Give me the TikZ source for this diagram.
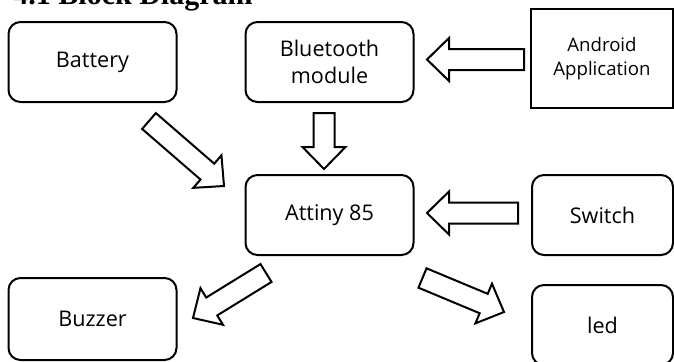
\documentclass[tikz,border=0pt]{standalone}
\usepackage{fontspec}
\setmainfont{Open Sans}
\newfontfamily\titlefont{Liberation Serif}
\usetikzlibrary{positioning,calc}

% sizes of the hollow block arrows
\newcommand{\shaftw}{5.25pt}
\newcommand{\headw}{10.75pt}
\newcommand{\headl}{11pt}

% hollow block arrow from tail #1 to tip #2
\newcommand{\blockarrow}[2]{%
  \draw[hollow] ($(#1)!\shaftw!90:(#2)$)
    -- ($(#2)!\headl!(#1)!\shaftw!90:(#2)$)
    -- ($(#2)!\headl!(#1)!\headw!90:(#2)$)
    -- (#2)
    -- ($(#2)!\headl!(#1)!\headw!-90:(#2)$)
    -- ($(#2)!\headl!(#1)!\shaftw!-90:(#2)$)
    -- ($(#1)!\shaftw!-90:(#2)$) -- cycle;
}

\begin{document}
\begin{tikzpicture}[
        x=0.5pt, y=-0.5pt,
        block/.style={draw, line width=1pt, rectangle, rounded corners=6pt, minimum width=84pt, minimum height=40pt, align=center, font=\fontsize{10.8}{13.5}\selectfont},
        plainbox/.style={draw, line width=1pt, rectangle, minimum width=71pt, minimum height=49.5pt, align=center, font=\fontsize{9.3}{12}\selectfont},
        hollow/.style={draw, line width=1pt, fill=white, line join=miter}
    ]
        \useasboundingbox (0,0) rectangle (674,361);

        % Title (cut at the top)
        \node[anchor=base west, inner sep=0pt, font=\titlefont\bfseries\fontsize{15}{18}\selectfont] (title) at (13,4.5) {4.1 Block Diagram};

        % Central Node
        \node[block] (attiny) at (329.5,215) {Attiny 85};

        % Peripheral Nodes
        \node[block] (battery) at (92.5,62) {Battery};
        \node[block] (bluetooth) at (329.5,62) {Bluetooth\\module};
        \node[plainbox] (android) at (602,58.5) {Android\\Application};
        \node[block, minimum width=70.5pt] (switch) at (602.5,215) {Switch};
        \node[block, minimum height=41pt] (buzzer) at (92.5,319) {Buzzer};
        \node[block, minimum width=70.5pt] (led) at (602.5,325) {led};

        % Arrow ends
        \coordinate (androidTail) at (524,59.5);
        \coordinate (bluetoothTip) at (427,59.5);
        \coordinate (bluetoothTail) at (324,113);
        \coordinate (attinyTopTip) at (324,169);
        \coordinate (switchTail) at (518,213);
        \coordinate (attinyRightTip) at (427,213);
        \coordinate (batteryTail) at (149,121);
        \coordinate (attinyLeftTip) at (224,186);
        \coordinate (buzzerTail) at (266,273);
        \coordinate (buzzerTip) at (193,318);
        \coordinate (ledTail) at (422.5,278);
        \coordinate (ledTip) at (504,312);

        % Block arrows
        \blockarrow{androidTail}{bluetoothTip}
        \blockarrow{bluetoothTail}{attinyTopTip}
        \blockarrow{switchTail}{attinyRightTip}
        \blockarrow{batteryTail}{attinyLeftTip}
        \blockarrow{buzzerTail}{buzzerTip}
        \blockarrow{ledTail}{ledTip}
    \end{tikzpicture}
\end{document}
